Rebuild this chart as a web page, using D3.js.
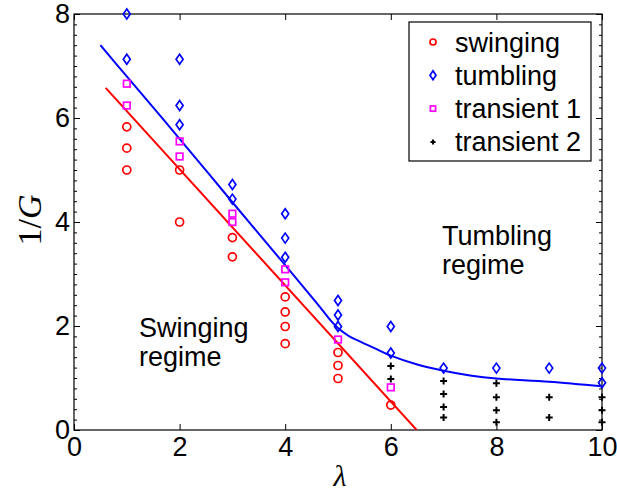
<!DOCTYPE html>
<html>
<head>
<meta charset="utf-8">
<script src="https://cdn.jsdelivr.net/npm/d3@7"></script>
<style>
  html, body { margin: 0; padding: 0; background: #fff; }
  svg { display: block; font-family: "Liberation Sans", Arial, sans-serif; }
</style>
</head>
<body>
<svg id="chart" width="617" height="494"></svg>
<script>
// ---- data ----
const swinging = [
  [1, 5.83], [1, 5.42], [1, 5.0],
  [2, 5.0], [2, 4.0],
  [3, 3.7], [3, 3.33],
  [4, 2.56], [4, 2.27], [4, 1.99], [4, 1.66],
  [5, 1.49], [5, 1.24], [5, 0.99],
  [6, 0.48]
];
const tumbling = [
  [1, 8.0], [1, 7.13],
  [2, 7.13], [2, 6.24], [2, 5.87],
  [3, 4.72], [3, 4.44],
  [4, 4.16], [4, 3.69], [4, 3.32],
  [5, 2.49], [5, 2.21], [5, 1.99],
  [6, 1.99], [6, 1.48],
  [7, 1.19], [8, 1.19], [9, 1.19],
  [10, 1.19], [10, 0.91]
];
const transient1 = [
  [1, 6.66], [1, 6.24],
  [2, 5.55], [2, 5.26],
  [3, 4.16], [3, 4.0],
  [4, 3.09], [4, 2.84],
  [5, 1.74],
  [6, 0.82]
];
const transient2 = [
  [6, 1.23], [6, 0.98],
  [7, 0.94], [7, 0.69], [7, 0.44], [7, 0.24],
  [8, 0.90], [8, 0.63], [8, 0.38], [8, 0.15],
  [9, 0.63], [9, 0.24],
  [10, 0.63], [10, 0.38], [10, 0.15]
];
const redLine = [[0.6, 6.58], [6.49, 0.0]];
const blueLine = [
  [0.5, 7.40], [1, 6.80], [2, 5.60], [3, 4.38], [4, 3.17], [4.5, 2.56],
  [4.7, 2.31], [4.85, 2.12], [5.0, 1.96], [5.2, 1.81], [5.4, 1.71], [5.7, 1.57], [6, 1.43],
  [6.5, 1.26], [7, 1.14], [7.5, 1.05], [8, 0.99], [9, 0.93], [10, 0.84]
];
const xTicks = [0, 2, 4, 6, 8, 10];
const yTicks = [0, 2, 4, 6, 8];
const yMinor = d3.range(0, 8.0001, 0.2).map(v => +v.toFixed(1));
const legendLabels = ["swinging", "tumbling", "transient 1", "transient 2"];
const regionLabels = [
  { lines: ["Swinging", "regime"], x: 139, y: 337 },
  { lines: ["Tumbling", "regime"], x: 442, y: 245 }
];

// ---- layout ----
const svg = d3.select("#chart");
const L = 74, R = 602, T = 14, B = 430;
const x = d3.scaleLinear().domain([0, 10]).range([L, R]);
const y = d3.scaleLinear().domain([0, 8]).range([B, T]);
const FS = 27;

// axes
const gx = svg.append("g").attr("transform", `translate(0,${B})`)
  .call(d3.axisBottom(x).tickValues(xTicks).tickFormat(d3.format("d")).tickSize(-6).tickPadding(7));
const gxt = svg.append("g").attr("transform", `translate(0,${T})`)
  .call(d3.axisTop(x).tickValues(xTicks).tickFormat("").tickSize(-6));
const gyMinL = svg.append("g").attr("transform", `translate(${L},0)`)
  .call(d3.axisLeft(y).tickValues(yMinor).tickFormat("").tickSize(-3));
const gyMinR = svg.append("g").attr("transform", `translate(${R},0)`)
  .call(d3.axisRight(y).tickValues(yMinor).tickFormat("").tickSize(-3));
const gy = svg.append("g").attr("transform", `translate(${L},0)`)
  .call(d3.axisLeft(y).tickValues(yTicks).tickFormat(d3.format("d")).tickSize(-6).tickPadding(4));
const gyr = svg.append("g").attr("transform", `translate(${R},0)`)
  .call(d3.axisRight(y).tickValues(yTicks).tickFormat("").tickSize(-6));

[gx, gxt, gy, gyr, gyMinL, gyMinR].forEach(g => {
  g.select(".domain").remove();
  g.selectAll("line").attr("stroke", "#000").attr("stroke-width", 1);
  g.selectAll("text").attr("font-size", FS).attr("fill", "#000")
    .attr("font-family", "'Liberation Sans', Arial, sans-serif");
});

// frame
svg.append("rect").attr("x", L).attr("y", T).attr("width", R - L).attr("height", B - T)
  .attr("fill", "none").attr("stroke", "#000").attr("stroke-width", 1.2);

// clip for lines
svg.append("clipPath").attr("id", "clip").append("rect")
  .attr("x", L).attr("y", T).attr("width", R - L).attr("height", B - T);

const lineGen = d3.line().x(d => x(d[0])).y(d => y(d[1]));
svg.append("path").datum(redLine).attr("d", lineGen)
  .attr("fill", "none").attr("stroke", "#ff0000").attr("stroke-width", 2).attr("clip-path", "url(#clip)");
svg.append("path").datum(blueLine).attr("d", lineGen.curve(d3.curveCatmullRom.alpha(0.5)))
  .attr("fill", "none").attr("stroke", "#0000ff").attr("stroke-width", 2).attr("clip-path", "url(#clip)");

// marker drawers
function circle(g, cx, cy, r) {
  g.append("circle").attr("cx", cx).attr("cy", cy).attr("r", r)
    .attr("fill", "none").attr("stroke", "#ff0000").attr("stroke-width", 1.7);
}
function diamond(g, cx, cy, w, h) {
  g.append("path").attr("d", `M${cx},${cy - h}L${cx + w},${cy}L${cx},${cy + h}L${cx - w},${cy}Z`)
    .attr("fill", "none").attr("stroke", "#0000ff").attr("stroke-width", 1.7);
}
function square(g, cx, cy, s) {
  g.append("rect").attr("x", cx - s).attr("y", cy - s).attr("width", 2 * s).attr("height", 2 * s)
    .attr("fill", "none").attr("stroke", "#ff00ff").attr("stroke-width", 1.7);
}
function plus(g, cx, cy, s) {
  g.append("path").attr("d", `M${cx - s},${cy}H${cx + s}M${cx},${cy - s}V${cy + s}`)
    .attr("fill", "none").attr("stroke", "#000").attr("stroke-width", 2);
}

const marks = svg.append("g");
swinging.forEach(d => circle(marks, x(d[0]), y(d[1]), 4));
tumbling.forEach(d => diamond(marks, x(d[0]), y(d[1]), 3.5, 5));
transient1.forEach(d => square(marks, x(d[0]), y(d[1]), 3.3));
transient2.forEach(d => plus(marks, x(d[0]), y(d[1]), 3.5));

// region labels
regionLabels.forEach(r => {
  const t = svg.append("text").attr("x", r.x).attr("y", r.y).attr("font-size", FS).attr("fill", "#000");
  r.lines.forEach((ln, i) => t.append("tspan").attr("x", r.x).attr("dy", i === 0 ? 0 : 29).text(ln));
});

// legend
const lg = svg.append("g");
lg.append("rect").attr("x", 409).attr("y", 22).attr("width", 182).attr("height", 139)
  .attr("fill", "#fff").attr("stroke", "#000").attr("stroke-width", 1.2);
const rowY = i => 42 + i * 33.3;
circle(lg, 433, rowY(0), 3);
diamond(lg, 433, rowY(1), 3, 4.5);
square(lg, 433, rowY(2), 2.6);
plus(lg, 433, rowY(3), 2.5);
legendLabels.forEach((lab, i) => {
  lg.append("text").attr("x", 455).attr("y", rowY(i) + 9.5).attr("font-size", FS).attr("fill", "#000").text(lab);
});

// axis titles
svg.append("text").attr("transform", "translate(41,220) rotate(-90)")
  .attr("text-anchor", "middle").attr("font-family", "'Liberation Serif', 'Times New Roman', serif")
  .attr("font-size", 34).attr("fill", "#000")
  .html('1/<tspan font-style="italic">G</tspan>');
svg.append("text").attr("x", 340).attr("y", 486).attr("text-anchor", "middle")
  .attr("font-family", "'Liberation Serif', 'Times New Roman', serif").attr("font-style", "italic")
  .attr("font-size", 30).attr("fill", "#000").text("λ");
</script>
</body>
</html>
